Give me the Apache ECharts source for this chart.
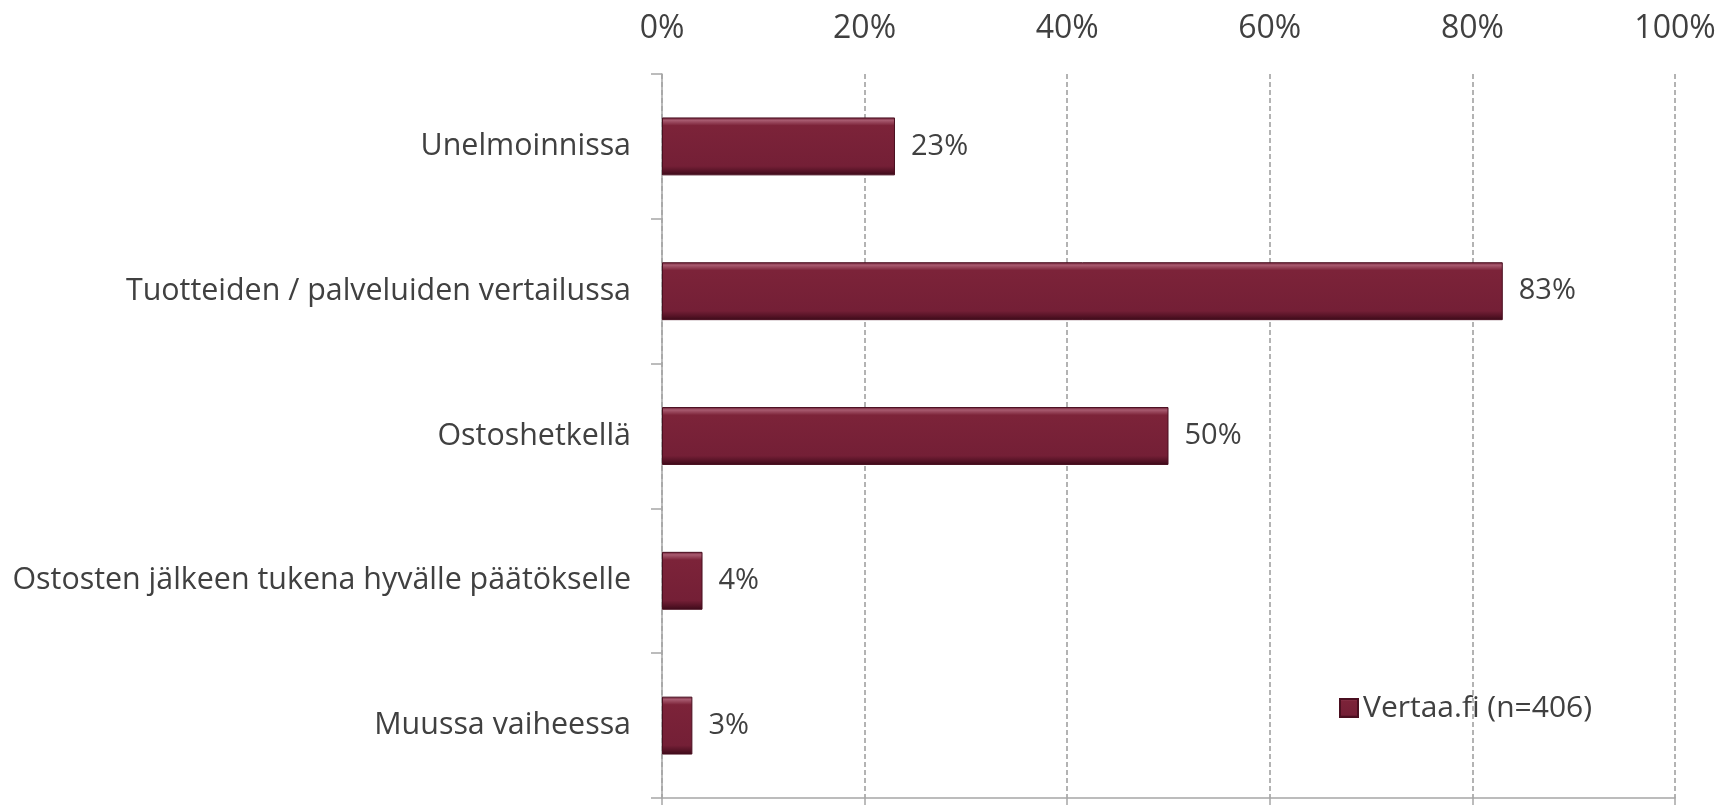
<!DOCTYPE html>
<html><head><meta charset="utf-8">
<script src="https://cdn.jsdelivr.net/npm/echarts@6/dist/echarts.min.js"></script>
<style>html,body{margin:0;padding:0;background:#fff}#c{width:1734px;height:805px}</style>
</head><body><div id="c"></div>
<script>
const categories = ["Unelmoinnissa", "Tuotteiden / palveluiden vertailussa", "Ostoshetkellä", "Ostosten jälkeen tukena hyvälle päätökselle", "Muussa vaiheessa"];
const values = [23, 83, 50, 4, 3];
const seriesName = "Vertaa.fi (n=406)";
const tickLabels = [0, 20, 40, 60, 80, 100];

const chart = echarts.init(document.getElementById('c'));
const font = '"Open Sans", "Noto Sans", sans-serif';
const txt = '#404040';
const barGrad = new echarts.graphic.LinearGradient(0, 0, 0, 1, [
  {offset: 0, color: '#6a1a30'},
  {offset: 0.05, color: '#a85b70'},
  {offset: 0.14, color: '#7c2339'},
  {offset: 0.84, color: '#741f36'},
  {offset: 0.93, color: '#561326'},
  {offset: 1, color: '#3a0a18'}
]);
chart.setOption({
  animation: false,
  grid: {left: 662, right: 59, top: 74, bottom: 7, containLabel: false},
  legend: {
    left: 1334, top: 688, icon: 'rect', itemWidth: 18, itemHeight: 18, itemGap: 8,
    textStyle: {fontFamily: font, fontSize: 30, color: txt},
    data: [seriesName]
  },
  xAxis: [{
    type: 'value', position: 'top', min: 0, max: 100, interval: 20,
    axisLine: {show: false}, axisTick: {show: false},
    axisLabel: {margin: 29, fontFamily: font, fontSize: 32, color: txt,
      formatter: v => tickLabels.includes(v) ? v + '%' : ''},
    splitLine: {show: true, lineStyle: {color: '#9a9a9a', width: 1.5, type: [5, 3]}}
  }, {
    type: 'value', position: 'bottom', min: 0, max: 100, interval: 20,
    axisLine: {show: true, lineStyle: {color: '#a6a6a6', width: 1.5}},
    axisTick: {show: true, length: 8, lineStyle: {color: '#a6a6a6', width: 1.5}},
    axisLabel: {show: false}, splitLine: {show: false}
  }],
  yAxis: {
    type: 'category', inverse: true, data: categories,
    axisLine: {show: true, lineStyle: {color: '#a6a6a6', width: 1.5}},
    axisTick: {show: true, length: 11, lineStyle: {color: '#a6a6a6', width: 1.5}},
    axisLabel: {margin: 31, fontFamily: font, fontSize: 30.4, color: txt}
  },
  series: [{
    name: seriesName, type: 'bar', xAxisIndex: 0, data: values,
    barCategoryGap: '60%',
    itemStyle: {color: barGrad, borderColor: '#4a0f20', borderWidth: 1},
    label: {show: true, position: 'right', distance: 16, formatter: '{c}%',
      fontFamily: font, fontSize: 29, color: txt}
  }]
});
</script></body></html>
